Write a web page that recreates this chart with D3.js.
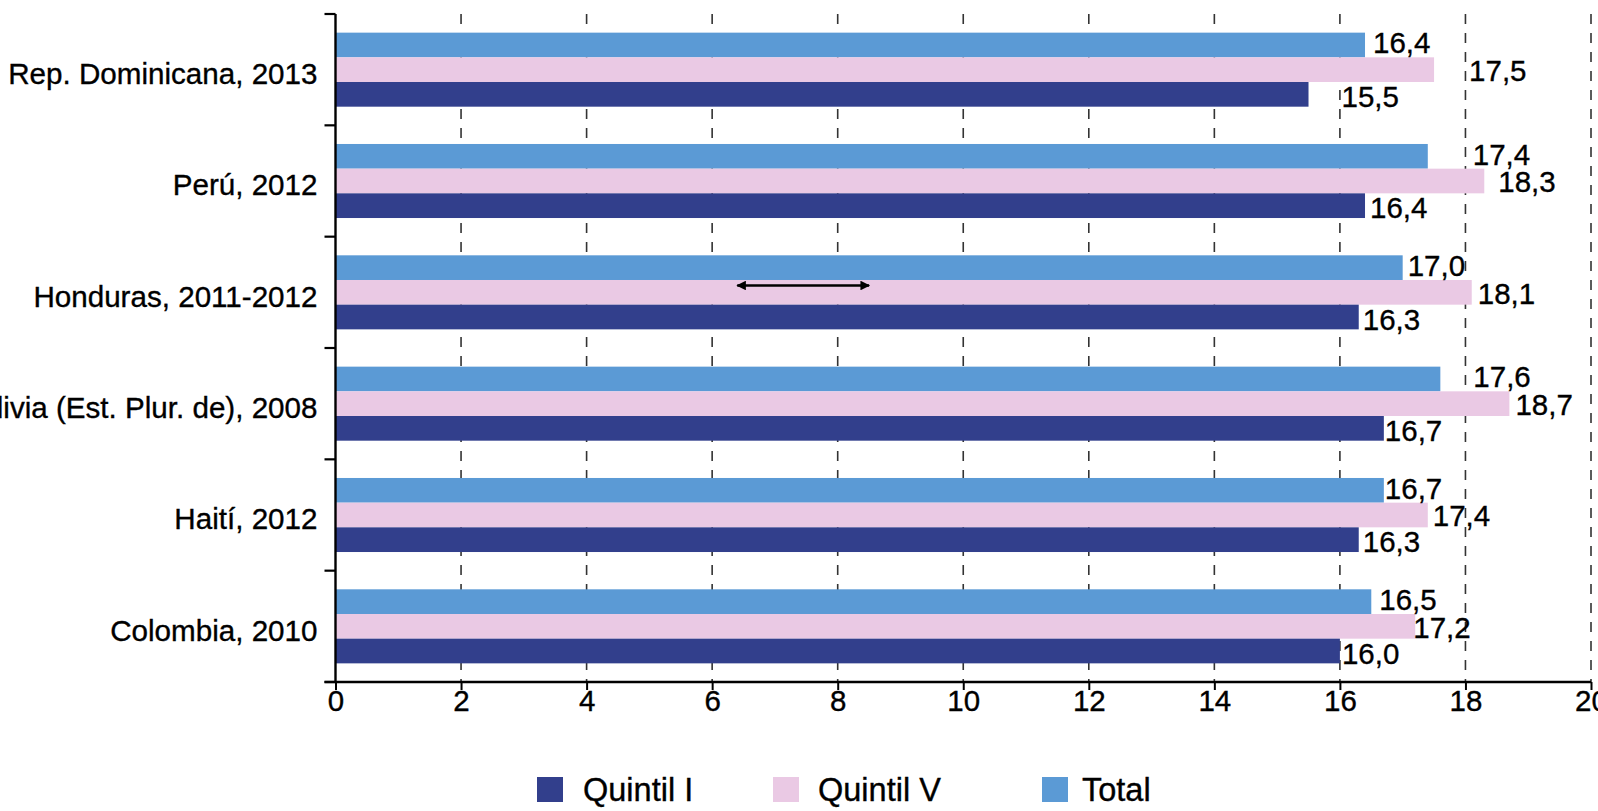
<!DOCTYPE html>
<html>
<head>
<meta charset="utf-8">
<script src="https://cdn.jsdelivr.net/npm/d3@7"></script>
<style>
  body { margin: 0; background: #fff; }
  svg text { font-family: "Liberation Sans", Arial, Helvetica, sans-serif; fill: #000; stroke: #000; stroke-width: 0.35px; }
</style>
</head>
<body>
<svg id="chart" width="1598" height="811"></svg>
<script>
// Age at first birth by income quintil (years)
const categories = [
  "Rep. Dominicana, 2013",
  "Perú, 2012",
  "Honduras, 2011-2012",
  "Bolivia (Est. Plur. de), 2008",
  "Haití, 2012",
  "Colombia, 2010"
];
const seriesNames = ["Total", "Quintil V", "Quintil I"];   // top to bottom inside each group
const legendNames = ["Quintil I", "Quintil V", "Total"];
const totalValues    = [16.4, 17.4, 17.0, 17.6, 16.7, 16.5];
const quintilVValues = [17.5, 18.3, 18.1, 18.7, 17.4, 17.2];
const quintilIValues = [15.5, 16.4, 16.3, 16.7, 16.3, 16.0];
const xTicks = [0, 2, 4, 6, 8, 10, 12, 14, 16, 18, 20];
const arrowSpan = [6.4, 8.5];   // double-headed annotation arrow on Honduras

// label placement tweaks (px, to the right of each bar end)
const labelNudge = {
  "Total":     [4, 41, 1, 29, -3, 4],
  "Quintil V": [31, 10, 2, 2, 1, -6],
  "Quintil I": [29, 1, 0, -3, 0, -2]
};
const labelDy = { "Total": -2, "Quintil V": 1, "Quintil I": 2.5 };

const colors = { "Quintil I": "#323f8c", "Quintil V": "#eac9e4", "Total": "#5b9ad5" };
const valuesBySeries = { "Total": totalValues, "Quintil V": quintilVValues, "Quintil I": quintilIValues };

const rows = categories.map((c, i) => ({
  category: c,
  bars: seriesNames.map(s => ({ series: s, value: valuesBySeries[s][i], idx: i }))
}));

const svg = d3.select("#chart");
const plotLeft = 335.5, plotRight = 1591, plotTop = 14, plotBottom = 682;

const x = d3.scaleLinear().domain([0, 20]).range([plotLeft, plotRight]);
const y = d3.scaleBand().domain(categories).range([plotTop, plotBottom])
  .paddingInner(0.335).paddingOuter(0.1675);
const ySub = d3.scaleBand().domain(seriesNames).range([0, y.bandwidth()]);
const step = y.step();

const fmt = d3.formatLocale({ decimal: ",", thousands: ".", grouping: [3], currency: ["", ""] }).format(".1f");

// dashed vertical gridlines
svg.append("g").selectAll("line")
  .data(xTicks.filter(d => d > 0))
  .join("line")
  .attr("x1", d => x(d)).attr("x2", d => x(d))
  .attr("y1", plotTop).attr("y2", plotBottom)
  .attr("stroke", "#333").attr("stroke-width", 1.6)
  .attr("stroke-dasharray", "10,9");

// bars
const groups = svg.append("g").selectAll("g")
  .data(rows).join("g")
  .attr("transform", d => `translate(0,${y(d.category)})`);

groups.selectAll("rect")
  .data(d => d.bars).join("rect")
  .attr("x", x(0))
  .attr("y", d => ySub(d.series))
  .attr("width", d => x(d.value) - x(0))
  .attr("height", ySub.bandwidth())
  .attr("fill", d => colors[d.series]);

// value labels
groups.selectAll("text")
  .data(d => d.bars).join("text")
  .attr("x", d => x(d.value) + 4 + labelNudge[d.series][d.idx])
  .attr("y", d => ySub(d.series) + ySub.bandwidth() / 2 + labelDy[d.series])
  .attr("dy", "0.35em")
  .attr("font-size", 29.5)
  .text(d => fmt(d.value));

// annotation arrow
const hond = rows[2];
const arrowY = y(hond.category) + ySub("Quintil V") + 5.5;
const defs = svg.append("defs");
defs.append("marker")
  .attr("id", "arrow-head")
  .attr("viewBox", "0 0 10 10")
  .attr("refX", 9).attr("refY", 5)
  .attr("markerWidth", 5).attr("markerHeight", 4)
  .attr("markerUnits", "strokeWidth")
  .attr("orient", "auto-start-reverse")
  .append("path").attr("d", "M0,0L10,5L0,10Z").attr("fill", "#000");
svg.append("line")
  .attr("x1", x(arrowSpan[0])).attr("x2", x(arrowSpan[1]))
  .attr("y1", arrowY).attr("y2", arrowY)
  .attr("stroke", "#000").attr("stroke-width", 2.4)
  .attr("marker-start", "url(#arrow-head)")
  .attr("marker-end", "url(#arrow-head)");

// y axis: line with ticks at group boundaries
const yAxis = svg.append("g");
yAxis.append("line")
  .attr("x1", plotLeft).attr("x2", plotLeft).attr("y1", plotTop).attr("y2", plotBottom)
  .attr("stroke", "#000").attr("stroke-width", 2.4);
yAxis.selectAll("line.tick")
  .data(d3.range(categories.length + 1))
  .join("line").attr("class", "tick")
  .attr("x1", plotLeft - 11).attr("x2", plotLeft)
  .attr("y1", i => plotTop + i * step).attr("y2", i => plotTop + i * step)
  .attr("stroke", "#000").attr("stroke-width", 2.2);
yAxis.selectAll("text")
  .data(categories).join("text")
  .attr("x", plotLeft - 18)
  .attr("y", d => y(d) + y.bandwidth() / 2 + 4)
  .attr("dy", "0.35em")
  .attr("text-anchor", "end")
  .attr("font-size", 29.6)
  .text(d => d);

// x axis
const xAxisG = svg.append("g")
  .attr("transform", `translate(0,${plotBottom})`)
  .call(d3.axisBottom(x).tickValues(xTicks).tickSize(8).tickPadding(0).tickFormat(d3.format("d")));
xAxisG.select(".domain")
  .attr("d", `M${plotLeft - 11},0H${plotRight}`)
  .attr("stroke", "#000").attr("stroke-width", 2.4);
xAxisG.selectAll(".tick line").attr("stroke", "#000").attr("stroke-width", 2);
xAxisG.selectAll(".tick text")
  .attr("font-size", 29.5)
  .attr("font-family", "'Liberation Sans', Arial, sans-serif")
  .attr("fill", "#000");

// legend
const legendSwatchX = [537, 773, 1042];
const legendTextX = [583, 818, 1082];
const legend = svg.append("g").selectAll("g")
  .data(legendNames).join("g")
  .attr("transform", "translate(0,789)");
legend.append("rect")
  .attr("x", (d, i) => legendSwatchX[i]).attr("y", -12).attr("width", 26).attr("height", 25)
  .attr("fill", d => colors[d]);
legend.append("text")
  .attr("x", (d, i) => legendTextX[i]).attr("y", 0).attr("dy", "0.36em")
  .attr("font-size", 32.5)
  .text(d => d);
</script>
</body>
</html>
